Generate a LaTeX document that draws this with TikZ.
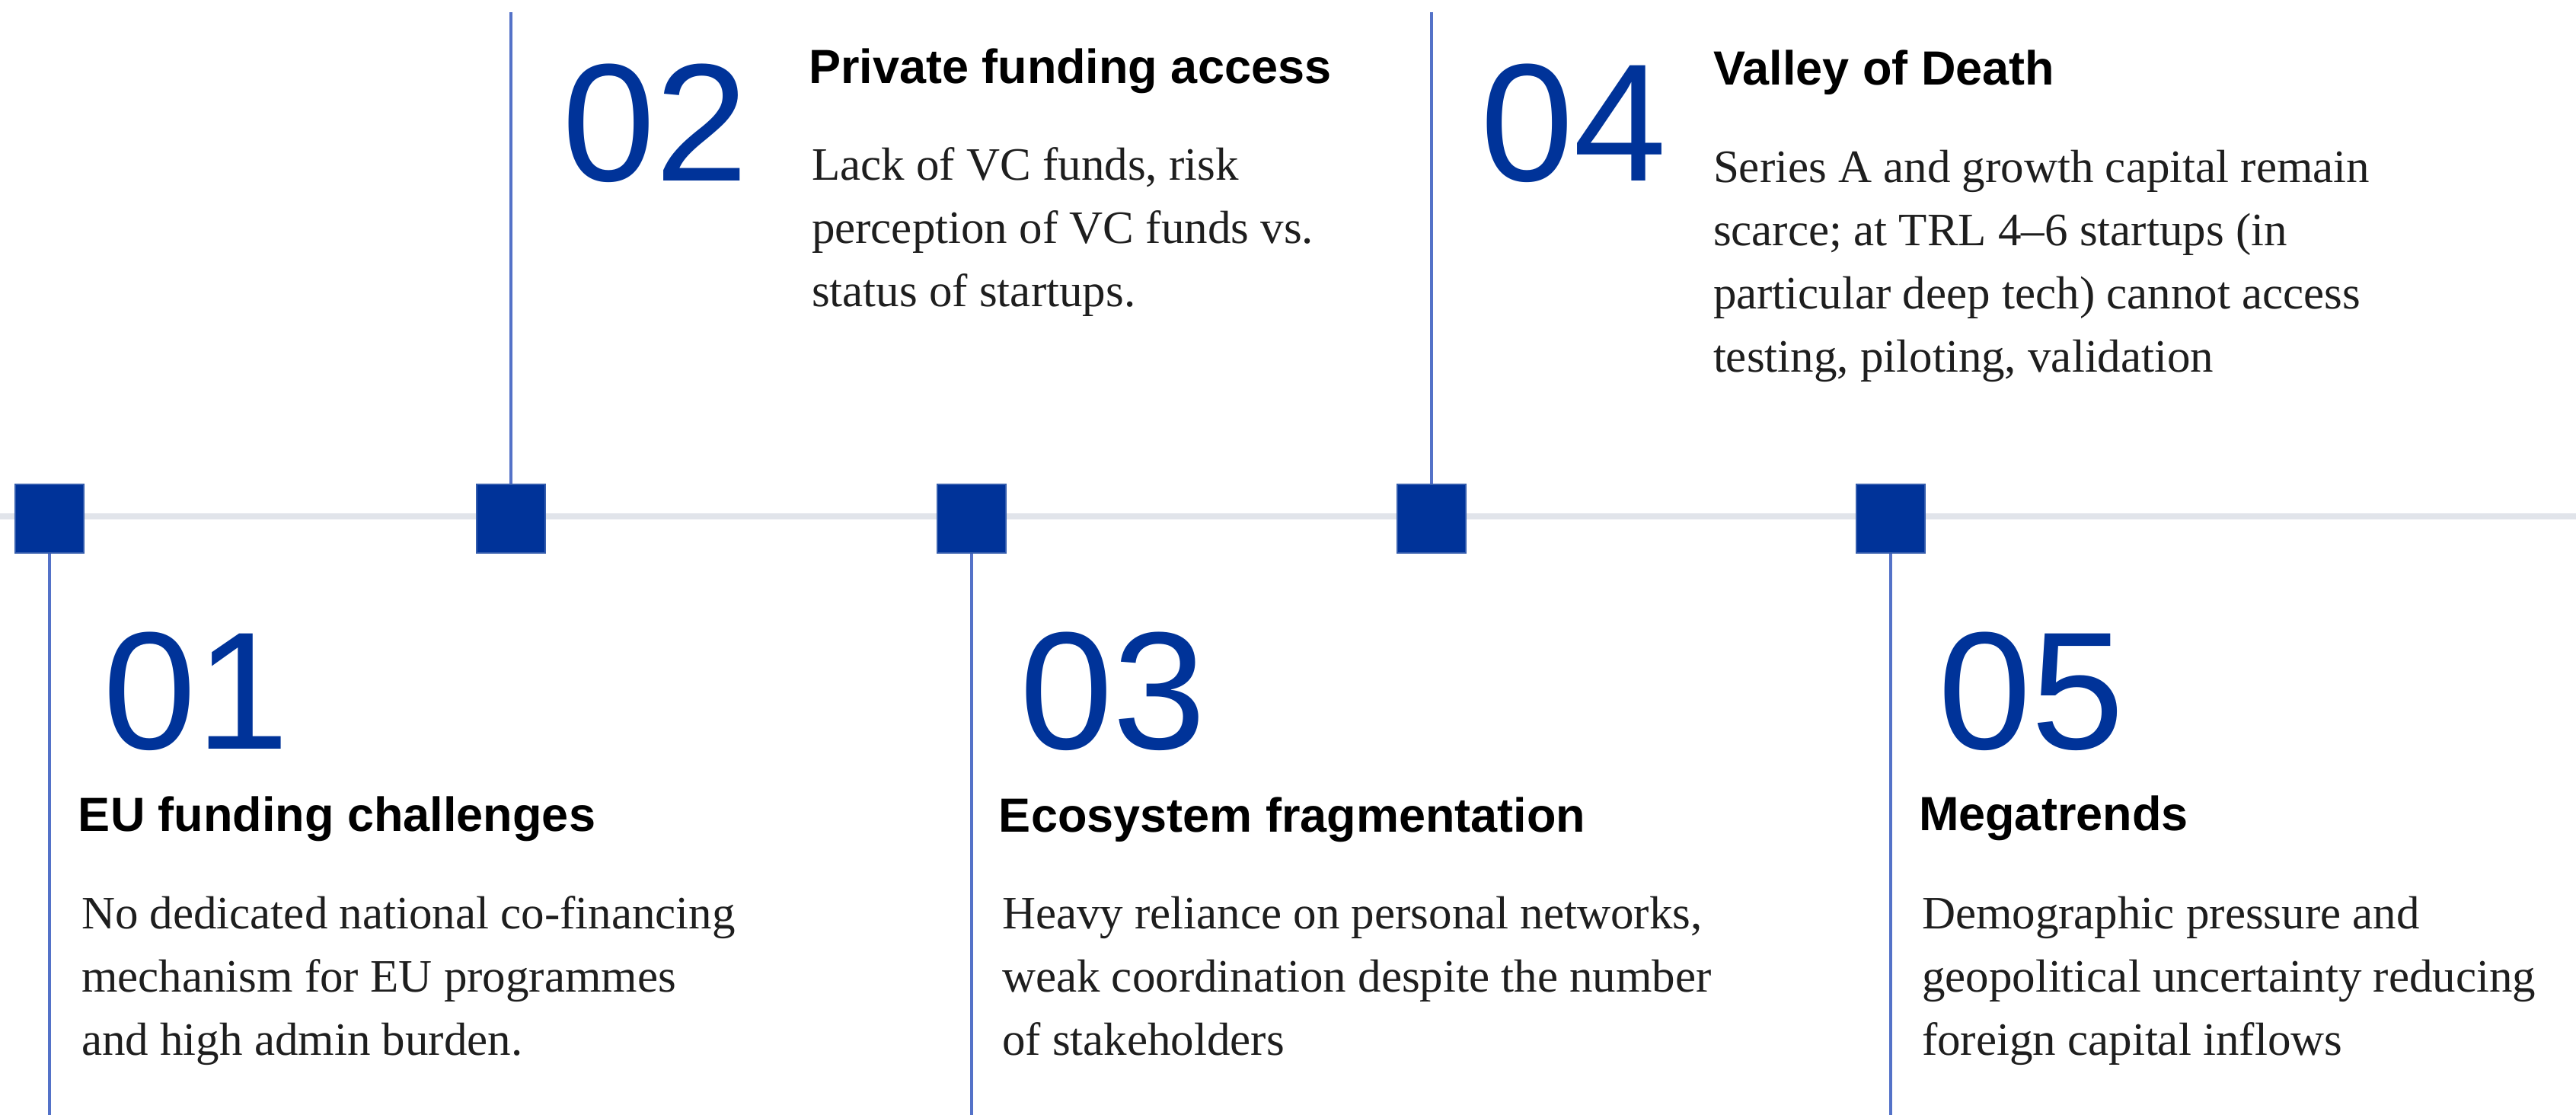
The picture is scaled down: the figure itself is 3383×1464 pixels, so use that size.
\documentclass[tikz,border=0pt]{standalone}
\usepackage{fontspec}
\usepackage{tikz}
\setmainfont{Liberation Serif}
\setsansfont{Liberation Sans}
\definecolor{eublue}{RGB}{0,51,153}
\definecolor{stemblue}{RGB}{84,114,200}
\definecolor{railgrey}{RGB}{225,228,234}
\definecolor{bodyink}{RGB}{30,30,30}
\newcommand{\rows}[1]{\begin{tabular}[t]{@{}l@{}}#1\end{tabular}}
\tikzset{
  marker/.style={fill=eublue,draw=eublue!80,line width=0.2pt,minimum size=9pt,inner sep=0pt},
  stem/.style={draw=stemblue,line width=0.35pt},
  bignum/.style={anchor=base west,inner sep=0pt,text=eublue,font=\sffamily\fontsize{22}{22}\selectfont},
  heading/.style={anchor=base west,inner sep=0pt,font=\sffamily\bfseries\fontsize{6.3}{7}\selectfont},
  bodytext/.style={anchor=base west,inner sep=0pt,text=bodyink,font=\fontsize{6.1}{8.3}\selectfont}
}

\begin{document}
\begin{tikzpicture}[x=0.1pt,y=-0.1pt]
\useasboundingbox (0,0) rectangle (3383,1464);
% the rail:
\path[fill=railgrey] (0,674) rectangle (3383,682);
% stems and markers:
\coordinate (top2) at (671,16);
\coordinate (top4) at (1880,16);
\coordinate (bot1) at (65,1464);
\coordinate (bot3) at (1276,1464);
\coordinate (bot5) at (2483,1464);
\node[marker] (m1) at (65,681) {};
\node[marker] (m2) at (671,681) {};
\node[marker] (m3) at (1276,681) {};
\node[marker] (m4) at (1880,681) {};
\node[marker] (m5) at (2483,681) {};
\draw[stem] (top2) -- (m2.north);
\draw[stem] (top4) -- (m4.north);
\draw[stem] (m1.south) -- (bot1);
\draw[stem] (m3.south) -- (bot3);
\draw[stem] (m5.south) -- (bot5);
% 01
\node[bignum] (n1) at (133,984) {01};
\node[heading] (h1) at (101,1092) {EU funding challenges};
\node[bodytext] (b1) at (105,1220) {\rows{No dedicated national co-financing\\ mechanism for EU programmes\\ and high admin burden.}};
% 02
\node[bignum] (n2) at (736,238) {02};
\node[heading] (h2) at (1060,110) {Private funding access};
\node[bodytext] (b2) at (1064,237) {\rows{Lack of VC funds, risk\\ perception of VC funds vs.\\ status of startups.}};
% 03
\node[bignum] (n3) at (1337,984) {03};
\node[heading] (h3) at (1310,1093) {Ecosystem fragmentation};
\node[bodytext] (b3) at (1314,1220) {\rows{Heavy reliance on personal networks,\\ weak coordination despite the number\\ of stakeholders}};
% 04
\node[bignum] (n4) at (1942,238) {04};
\node[heading] (h4) at (2248,112) {Valley of Death};
\node[bodytext] (b4) at (2248,240) {\rows{Series A and growth capital remain\\ scarce; at TRL 4--6 startups (in\\ particular deep tech) cannot access\\ testing, piloting, validation}};
% 05
\node[bignum] (n5) at (2543,984) {05};
\node[heading] (h5) at (2518,1091) {Megatrends};
\node[bodytext] (b5) at (2522,1220) {\rows{Demographic pressure and\\ geopolitical uncertainty reducing\\ foreign capital inflows}};
\end{tikzpicture}
\end{document}
